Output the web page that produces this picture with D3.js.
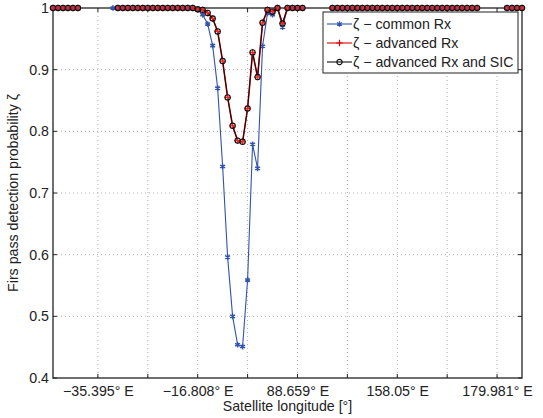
<!DOCTYPE html>
<html>
<head>
<meta charset="utf-8">
<script src="https://cdn.jsdelivr.net/npm/d3@7"></script>
<style>
  body { margin: 0; background: #fff; }
  text { font-family: "Liberation Sans", Arial, sans-serif; fill: #222; }
</style>
</head>
<body>
<div class="chart"></div>
<script>
// x position is the satellite index 1..95, gaps are null
var commonRx = [
  1, 1, 1, 1, 1, 1, null, null, null, null,
  null, null, 1, 1, 1, 1, 1, 1, 1, 1,
  1, 1, 1, 1, 1, 1, 1, 1, 1, 0.997,
  0.989, 0.974, 0.939, 0.870, 0.743, 0.596, 0.500, 0.454, 0.451, 0.559,
  0.779, 0.740, 0.938, 0.992, 0.989, 1, 0.969, 1, 1, 1,
  1, null, null, null, null, null, 1, 1, 1, 1,
  1, 1, 1, 1, 1, 1, 1, 1, 1, 1,
  1, 1, 1, 1, 1, 1, 1, 1, 1, 1,
  1, 1, 1, 1, 1, 1, null, null, null, null,
  null, 1, 1, 1, 1
]
var advancedRx = [
  1, 1, 1, 1, 1, 1, null, null, null, null,
  null, null, null, 1, 1, 1, 1, 1, 1, 1,
  1, 1, 1, 1, 1, 1, 1, 1, 1, 0.998,
  0.997, 0.992, 0.983, 0.962, 0.914, 0.855, 0.809, 0.785, 0.783, 0.837,
  0.928, 0.888, 0.976, 0.997, 0.994, 1, 0.975, 1, 1, 1,
  1, null, null, null, null, null, 1, 1, 1, 1,
  1, 1, 1, 1, 1, 1, 1, 1, 1, 1,
  1, 1, 1, 1, 1, 1, 1, 1, 1, 1,
  1, 1, 1, 1, 1, 1, null, null, null, null,
  null, 1, 1, 1, 1
]
var advancedSic = advancedRx.slice()

var xTicks = [10, 20, 30, 40, 50, 60, 70, 80, 90]
var xTickLabels = ['\u221235.395\u00b0 E', '', '\u221216.808\u00b0 E', '', '88.659\u00b0 E', '', '158.05\u00b0 E', '', '179.981\u00b0 E']
var yTicks = [0.4, 0.5, 0.6, 0.7, 0.8, 0.9, 1]
var yTickLabels = ['0.4', '0.5', '0.6', '0.7', '0.8', '0.9', '1']
var legendLabels = ['\u03b6 \u2212 common Rx', '\u03b6 \u2212 advanced Rx', '\u03b6 \u2212 advanced Rx and SIC']

var width = 543
var height = 418
var plotLeft = 53, plotRight = 522, plotTop = 8, plotBottom = 378
var blue = '#3152ae'
var fontSize = '14.2px'

var svg = d3.select('.chart')
  .append('svg')
  .attr('width', width)
  .attr('height', height)

var x = d3.scaleLinear().domain([1, 95]).range([plotLeft, plotRight])
var y = d3.scaleLinear().domain([0.4, 1]).range([plotBottom, plotTop])

// grid
svg.append('g').selectAll('line')
  .data(xTicks)
  .enter().append('line')
  .attr('x1', d => x(d)).attr('x2', d => x(d))
  .attr('y1', plotTop).attr('y2', plotBottom)
  .style('stroke', '#b0b0b0')
  .style('stroke-dasharray', '1,3')

svg.append('g').selectAll('line')
  .data(yTicks.slice(1, -1))
  .enter().append('line')
  .attr('x1', plotLeft).attr('x2', plotRight)
  .attr('y1', d => y(d)).attr('y2', d => y(d))
  .style('stroke', '#b0b0b0')
  .style('stroke-dasharray', '1,3')

// axes
var xAxis = d3.axisBottom(x).tickValues(xTicks).tickSize(0).tickPadding(8)
  .tickFormat((d, i) => xTickLabels[i])
var gx = svg.append('g').attr('transform', 'translate(0,' + plotBottom + ')').call(xAxis)
gx.select('.domain').remove()
gx.selectAll('text').style('font-size', fontSize).style('font-family', '"Liberation Sans", Arial, sans-serif').attr('fill', '#222')

var yAxis = d3.axisLeft(y).tickValues(yTicks).tickSize(0).tickPadding(4)
  .tickFormat((d, i) => yTickLabels[i])
var gy = svg.append('g').attr('transform', 'translate(' + plotLeft + ',0)').call(yAxis)
gy.select('.domain').remove()
gy.selectAll('text').style('font-size', fontSize).style('font-family', '"Liberation Sans", Arial, sans-serif').attr('fill', '#222')

// inward tick marks
xTicks.forEach(function (t) {
  svg.append('line').attr('x1', x(t)).attr('x2', x(t)).attr('y1', plotBottom).attr('y2', plotBottom - 4).style('stroke', '#222')
  svg.append('line').attr('x1', x(t)).attr('x2', x(t)).attr('y1', plotTop).attr('y2', plotTop + 4).style('stroke', '#222')
})
yTicks.forEach(function (t) {
  svg.append('line').attr('x1', plotLeft).attr('x2', plotLeft + 4).attr('y1', y(t)).attr('y2', y(t)).style('stroke', '#222')
  svg.append('line').attr('x1', plotRight).attr('x2', plotRight - 4).attr('y1', y(t)).attr('y2', y(t)).style('stroke', '#222')
})

svg.append('rect')
  .attr('x', plotLeft).attr('y', plotTop)
  .attr('width', plotRight - plotLeft).attr('height', plotBottom - plotTop)
  .style('fill', 'none').style('stroke', '#222').style('stroke-width', 1.3)

// axis titles
svg.append('text')
  .attr('x', (plotLeft + plotRight) / 2).attr('y', 411)
  .attr('text-anchor', 'middle')
  .style('font-size', fontSize)
  .text('Satellite longitude [\u00b0]')

svg.append('text')
  .attr('transform', 'translate(18,' + ((plotTop + plotBottom) / 2) + ') rotate(-90)')
  .attr('text-anchor', 'middle')
  .style('font-size', fontSize)
  .text('Firs pass detection probability \u03b6')

// series
var line = d3.line()
  .defined(d => d != null)
  .x((d, i) => x(i + 1))
  .y(d => y(d))

function points(values) {
  return values.map((v, i) => ({ i: i + 1, v: v })).filter(d => d.v != null)
}

var star = d3.symbol().type(d3.symbolAsterisk).size(22)
var plus = d3.symbol().type(d3.symbolPlus).size(16)
var circle = d3.symbol().type(d3.symbolCircle).size(22)

svg.append('path').datum(commonRx).attr('d', line)
  .style('fill', 'none').style('stroke', blue).style('stroke-width', 1.1)
svg.append('g').selectAll('path')
  .data(points(commonRx))
  .enter().append('path')
  .attr('d', star)
  .attr('transform', d => 'translate(' + x(d.i) + ',' + y(d.v) + ')')
  .style('fill', 'none').style('stroke', blue).style('stroke-width', 1.5)

svg.append('path').datum(advancedRx).attr('d', line)
  .style('fill', 'none').style('stroke', '#d00000').style('stroke-width', 1.6)

svg.append('path').datum(advancedSic).attr('d', line)
  .style('fill', 'none').style('stroke', '#111').style('stroke-width', 1)

svg.append('g').selectAll('path')
  .data(points(advancedRx))
  .enter().append('path')
  .attr('d', plus)
  .attr('transform', d => 'translate(' + x(d.i) + ',' + y(d.v) + ')')
  .style('fill', 'none').style('stroke', '#ff2020').style('stroke-width', 1.3)

svg.append('g').selectAll('path')
  .data(points(advancedSic))
  .enter().append('path')
  .attr('d', circle)
  .attr('transform', d => 'translate(' + x(d.i) + ',' + y(d.v) + ')')
  .style('fill', 'none').style('stroke', '#111').style('stroke-width', 1.1)

// legend
svg.append('rect')
  .attr('x', 323).attr('y', 12).attr('width', 195).attr('height', 61)
  .style('fill', '#fff').style('stroke', '#222').style('stroke-width', 1)

var legendRows = [
  { color: blue, symbol: star },
  { color: '#e00000', symbol: plus },
  { color: '#111', symbol: circle }
]
legendRows.forEach(function (r, i) {
  var ly = 24 + i * 19
  svg.append('line').attr('x1', 327).attr('x2', 352).attr('y1', ly).attr('y2', ly)
    .style('stroke', r.color).style('stroke-width', 1.1)
  svg.append('path').attr('d', r.symbol).attr('transform', 'translate(339.5,' + ly + ')')
    .style('fill', 'none').style('stroke', r.color).style('stroke-width', 1.2)
  svg.append('text').attr('x', 353).attr('y', ly + 5)
    .style('font-size', fontSize)
    .text(legendLabels[i])
})
</script>
</body>
</html>
